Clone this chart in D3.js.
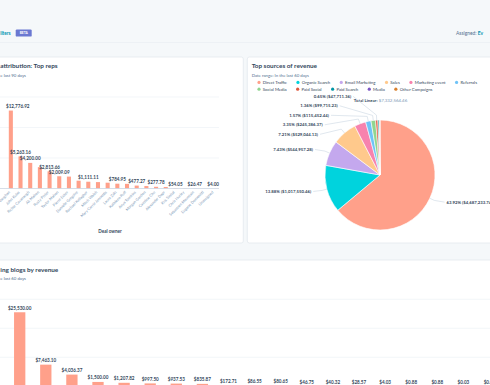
<!DOCTYPE html>
<html>
<head>
<meta charset="utf-8">
<script src="https://cdn.jsdelivr.net/npm/d3@7"></script>
<style>
  html, body { margin: 0; padding: 0; background: #f5f8fa; overflow: hidden; }
  svg { display: block; font-family: Lato, "Noto Sans", sans-serif; }
</style>
</head>
<body>
<div id="dash"></div>
<script>
// ---- data ----
var repNames = ["Kim Vaughan", "John Kulas", "Richie Cavanaugh", "Ali Mahon", "Rusty Pister",
  "Taylor Mahon", "Pierre Ecker", "Danielle Gregoire", "Rachael Kellagher", "Mitch Walsh",
  "Mary Carrie Jennettis", "Laura Zaki", "Kathleen Ruff", "Anya Tomkins", "Morgan Gordon",
  "Caroline Chu", "Alexander Dapr", "Kris Sinhal", "Chris Hurley", "Sebastien Mountain",
  "Eugene Domenitti", "Unassigned"];
var repRevenue = [12776.92, 5263.16, 4200.00, 3500.00, 2813.66, 2009.09, 1950.00, 1280.00,
  1111.11, 1050.00, 950.00, 784.95, 760.00, 477.27, 400.00, 277.78, 250.00, 54.05, 40.00,
  26.47, 12.00, 4.00];
var repTicks = [0, 5000, 10000, 15000];

var sourceNames = ["Direct Traffic", "Organic Search", "Email Marketing", "Sales", "Marketing event",
  "Referrals", "Social Media", "Paid Social", "Paid Search", "Media", "Other Campaigns"];
var sourceRevenue = [4687233.74, 1017550.46, 544957.28, 529044.13, 245386.37, 115452.44,
  99715.23, 47711.36, 28640.12, 11420.87, 5452.46];
var sourceColors = ["#ffa08a", "#00d3dd", "#c4a8ee", "#ffc98c", "#f783ae", "#6fc3f7",
  "#90d58f", "#e0583e", "#0096a6", "#7b57c4", "#d9802f"];

var blogRevenue = [25530.00, 7463.10, 4036.37, 1500.00, 1207.82, 997.50, 937.53, 835.87,
  172.71, 86.55, 80.65, 46.75, 40.32, 28.57, 4.03, 0.88, 0.88, 0.03, 0.01];
var blogTicks = [0, 10000, 20000, 30000];

// ---- page ----
var width = 490, height = 385;
var dark = "#33475b", muted = "#516f90", light = "#7c98b6", teal = "#0091ae";
var barColor = "#ffa08a";
var money = d3.format(",.2f");

var svg = d3.select("#dash").append("svg")
  .attr("width", width)
  .attr("height", height);

svg.append("rect").attr("width", width).attr("height", height).attr("fill", "#f5f8fa");
svg.append("line").attr("x1", 0).attr("x2", width).attr("y1", 42.5).attr("y2", 42.5)
  .attr("stroke", "#edf1f5");

// header strip (the screenshot is cropped at both sides)
svg.append("text").attr("x", 0.2).attr("y", 34.6)
  .attr("font-size", 4.7).attr("font-weight", 700).attr("fill", teal).text("ilters");
svg.append("rect").attr("x", 15.7).attr("y", 29.4).attr("width", 16).attr("height", 7.2)
  .attr("rx", 1.2).attr("fill", "#6a78d1");
svg.append("text").attr("x", 23.7).attr("y", 34.3).attr("text-anchor", "middle")
  .attr("font-size", 3.3).attr("font-weight", 700).attr("fill", "#fff").text("BETA");
var assigned = svg.append("text").attr("x", 456).attr("y", 34.6).attr("font-size", 4.9);
assigned.append("tspan").attr("fill", muted).text("Assigned: ");
assigned.append("tspan").attr("fill", teal).attr("font-weight", 700).text("Ev");

// cards
function card(x, y, w, h) {
  svg.append("rect").attr("x", x).attr("y", y).attr("width", w).attr("height", h)
    .attr("rx", 2).attr("fill", "#fff").attr("stroke", "#e3e8ee").attr("stroke-width", 0.8);
}
card(-6, 57, 249.3, 186);
card(247.3, 57, 260, 186);
card(-6, 260, 510, 140);

function heading(x, y, title, sub) {
  svg.append("text").attr("x", x).attr("y", y)
    .attr("font-size", 6.4).attr("font-weight", 700).attr("fill", dark).text(title);
  svg.append("text").attr("x", x).attr("y", y + 8.8)
    .attr("font-size", 4.3).attr("fill", muted).text(sub);
}

// value labels above columns, hiding the ones that collide
function valueLabels(g, values, keys, x, y, xmin, xmax) {
  var shown = [];
  values.forEach(function (v, i) {
    var t = g.append("text")
      .attr("text-anchor", "middle")
      .attr("font-size", 4.6)
      .attr("font-weight", 700)
      .attr("fill", dark)
      .text("$" + money(v));
    var w = t.node().getComputedTextLength();
    var cx = x(keys[i]) + x.bandwidth() / 2;
    cx = Math.max(xmin + w / 2, Math.min(xmax - w / 2, cx));
    var base = y(v) - 2.6;
    var box = { x0: cx - w / 2 - 0.5, x1: cx + w / 2 + 0.5, y0: base - 4.6, y1: base };
    var hit = shown.some(function (b) {
      return b.x0 < box.x1 && box.x0 < b.x1 && b.y0 < box.y1 && box.y0 < b.y1;
    });
    if (hit) t.remove();
    else { t.attr("x", cx).attr("y", base); shown.push(box); }
  });
}

//===============================================
// Card 1: revenue by deal owner
heading(0.3, 68.2, "attribution: Top reps", "e last 90 days");

var g1 = svg.append("g");
var x1 = d3.scaleBand().domain(repNames).range([6, 219]).paddingInner(0.58).paddingOuter(0.29);
var y1 = d3.scaleLinear().domain([0, 15000]).range([188.5, 97]);

g1.selectAll(".grid").data(repTicks.slice(1)).join("line")
  .attr("x1", -10).attr("x2", 219)
  .attr("y1", function (d) { return y1(d); }).attr("y2", function (d) { return y1(d); })
  .attr("stroke", "#eef2f6").attr("stroke-width", 0.7);

g1.selectAll(".bar").data(repRevenue).join("rect")
  .attr("x", function (d, i) { return x1(repNames[i]); })
  .attr("width", x1.bandwidth())
  .attr("y", function (d) { return y1(d); })
  .attr("height", function (d) { return y1(0) - y1(d); })
  .attr("fill", barColor);

g1.append("line").attr("x1", -10).attr("x2", 219)
  .attr("y1", y1(0)).attr("y2", y1(0))
  .attr("stroke", "#cbd6e2").attr("stroke-width", 0.8);

valueLabels(g1, repRevenue, repNames, x1, y1, 6, 219);

g1.selectAll(".name").data(repNames).join("text")
  .attr("text-anchor", "end")
  .attr("font-size", 3.8)
  .attr("fill", light)
  .attr("transform", function (d) {
    return "translate(" + (x1(d) + x1.bandwidth() / 2 - 0.5) + "," + 192.5 + ")rotate(-45)";
  })
  .text(function (d) { return d; });

g1.append("text").attr("x", 110).attr("y", 232.6).attr("text-anchor", "middle")
  .attr("font-size", 4.6).attr("font-weight", 700).attr("fill", dark).text("Deal owner");

//===============================================
// Card 2: pie of revenue sources
heading(251.7, 68.2, "Top sources of revenue", "Date range: In the last 60 days");

// legend, flowing in rows
var lg = svg.append("g").attr("font-size", 4.3).attr("fill", dark);
var lx = 257.4, ly = 82.4;
sourceNames.forEach(function (name, i) {
  var item = lg.append("g");
  item.append("circle").attr("r", 1.6).attr("fill", sourceColors[i]);
  var t = item.append("text").attr("x", 3.8).attr("y", 1.5).text(name);
  var w = 3.8 + t.node().getComputedTextLength();
  if (lx + w > 488) { lx = 257.4; ly += 6.8; }
  item.attr("transform", "translate(" + (lx + 1.6) + "," + ly + ")");
  lx += w + 11;
});

var total = d3.sum(sourceRevenue);
var tot = svg.append("text").attr("x", 380.5).attr("y", 101.6).attr("text-anchor", "middle")
  .attr("font-size", 4.4);
tot.append("tspan").attr("font-weight", 700).attr("fill", dark).text("Total Linear: ");
tot.append("tspan").attr("fill", light).text("$" + money(total));

var cx = 380, cy = 175, r = 55;
var pie = d3.pie().sort(null).value(function (d) { return d; });
var arcs = pie(sourceRevenue);
var arc = d3.arc().innerRadius(0).outerRadius(r);

var gp = svg.append("g").attr("transform", "translate(" + cx + "," + cy + ")");
gp.selectAll("path").data(arcs).join("path")
  .attr("d", arc)
  .attr("fill", function (d, i) { return sourceColors[i]; })
  .attr("stroke", "#fff").attr("stroke-width", 0.6);

// data labels: spread in columns left/right of the pie
var labels = arcs.filter(function (d) { return d.value / total >= 0.005; }).map(function (d) {
  var a = (d.startAngle + d.endAngle) / 2;
  return { a: a, left: Math.sin(a) < 0, y: cy - 64 * Math.cos(a), v: d.value };
});

function spread(list, gap) {
  list.sort(function (p, q) { return p.y - q.y; });
  var groups = list.map(function (d) { return { items: [d], mean: d.y }; });
  var merged = true;
  while (merged) {
    merged = false;
    groups.forEach(function (g) {
      g.top = g.mean - gap * (g.items.length - 1) / 2;
    });
    for (var i = 1; i < groups.length; i++) {
      var prev = groups[i - 1], cur = groups[i];
      if (prev.top + gap * prev.items.length > cur.top) {
        var items = prev.items.concat(cur.items);
        var nat = d3.mean(items, function (d) { return d.ny; });
        groups.splice(i - 1, 2, { items: items, mean: nat });
        merged = true;
        break;
      }
    }
  }
  groups.forEach(function (g) {
    g.top = g.mean - gap * (g.items.length - 1) / 2;
    g.items.forEach(function (d, k) { d.y = g.top + gap * k; });
  });
}
labels.forEach(function (d) { d.ny = d.y; });
spread(labels.filter(function (d) { return d.left; }), 9.5);
spread(labels.filter(function (d) { return !d.left; }), 9.5);

labels.forEach(function (d) {
  var s = Math.max(-1, Math.min(1, (d.y - cy) / 85));
  var off = 66 * Math.cos(Math.asin(s));
  d.x = d.left ? cx - 4 - off : cx + 4 + off;
  var ex = cx + r * Math.sin(d.a), ey = cy - r * Math.cos(d.a);
  var bx = cx + (r + 5) * Math.sin(d.a), by = cy - (r + 5) * Math.cos(d.a);
  var tx = d.left ? d.x + 2 : d.x - 2;
  svg.append("path")
    .attr("d", "M" + ex + "," + ey + "L" + bx + "," + by + "L" + tx + "," + d.y)
    .attr("fill", "none").attr("stroke", "#cbd6e2").attr("stroke-width", 0.6);
  svg.append("text")
    .attr("x", d.x).attr("y", d.y + 1.5)
    .attr("text-anchor", d.left ? "end" : "start")
    .attr("font-size", 4.3).attr("font-weight", 700).attr("fill", dark)
    .text(d3.format(".2f")(d.v / total * 100) + "% ($" + money(d.v) + ")");
});

//===============================================
// Card 3: blogs by revenue
heading(0.3, 271.6, "ing blogs by revenue", "e last 60 days");

var g3 = svg.append("g");
var blogKeys = d3.range(blogRevenue.length);
var x3 = d3.scaleBand().domain(blogKeys).range([6.65, 6.65 + 26.1 * blogRevenue.length])
  .paddingInner(0.567).paddingOuter(0.2835);
var y3 = d3.scaleLinear().domain([0, 30000]).range([386.3, 299.3]);

g3.selectAll(".grid").data(blogTicks.slice(1)).join("line")
  .attr("x1", -10).attr("x2", 500)
  .attr("y1", function (d) { return y3(d); }).attr("y2", function (d) { return y3(d); })
  .attr("stroke", "#eef2f6").attr("stroke-width", 0.7);

g3.selectAll(".bar").data(blogRevenue).join("rect")
  .attr("x", function (d, i) { return x3(i); })
  .attr("width", x3.bandwidth())
  .attr("y", function (d) { return y3(d); })
  .attr("height", function (d) { return y3(0) - y3(d); })
  .attr("fill", barColor);

valueLabels(g3, blogRevenue, blogKeys, x3, y3, 6, 520);
</script>
</body>
</html>
